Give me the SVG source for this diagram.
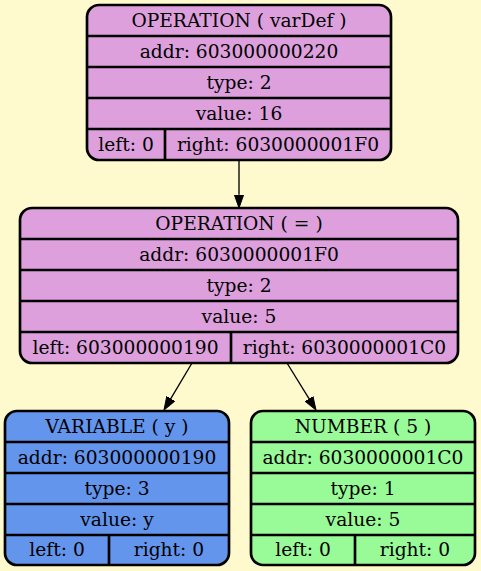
<svg xmlns="http://www.w3.org/2000/svg" width="481" height="571" viewBox="0 0 481 571">
<defs>
<style>
.bg{fill:#fffacd}
.box{stroke:#000;stroke-width:2.67}
.div{stroke:#000;stroke-width:2.67;fill:none}
.op{fill:#dda0dd}
.var{fill:#6495ed}
.num{fill:#98fb98}
text{font-family:"DejaVu Serif","Liberation Serif",serif;font-size:18.67px;fill:#000;text-anchor:middle}
.edge{stroke:#000;stroke-width:1.33;fill:none}
</style>
<marker id="arr" viewBox="0 0 14 10" refX="0" refY="5" markerWidth="14" markerHeight="10" markerUnits="userSpaceOnUse" orient="auto">
<path d="M0,0.33 L13.3,5 L0,9.67 z" fill="#000" stroke="#000" stroke-width="1"/>
</marker>
</defs>
<rect class="bg" x="0" y="0" width="481" height="571"/>
<g id="connectors">
<path class="edge" d="M239,160 L239,194.7" marker-end="url(#arr)"/>
<path class="edge" d="M192,363 L170.8,398.6" marker-end="url(#arr)"/>
<path class="edge" d="M287,363 L309,398.7" marker-end="url(#arr)"/>
</g>
<g id="node_varDef">
<rect class="box op" x="87" y="5" width="304" height="155" rx="12" ry="12"/>
<path class="div" d="M87,36 H391 M87,67 H391 M87,98 H391 M87,129 H391 M165,129 V160"/>
<text x="239" y="26.5">OPERATION ( varDef )</text>
<text x="239" y="57.5">addr: 603000000220</text>
<text x="239" y="88.5">type: 2</text>
<text x="239" y="119.5">value: 16</text>
<text x="126" y="150.5">left: 0</text>
<text x="278" y="150.5">right: 6030000001F0</text>
</g>
<g id="node_assign">
<rect class="box op" x="20" y="208" width="438" height="155" rx="12" ry="12"/>
<path class="div" d="M20,239 H458 M20,270 H458 M20,301 H458 M20,332 H458 M231,332 V363"/>
<text x="239" y="229.5">OPERATION ( = )</text>
<text x="239" y="260.5">addr: 6030000001F0</text>
<text x="239" y="291.5">type: 2</text>
<text x="239" y="322.5">value: 5</text>
<text x="125.5" y="353.5">left: 603000000190</text>
<text x="344.5" y="353.5">right: 6030000001C0</text>
</g>
<g id="node_var_y">
<rect class="box var" x="5" y="411" width="224" height="154" rx="12" ry="12"/>
<path class="div" d="M5,442 H229 M5,473 H229 M5,504 H229 M5,535 H229 M109,535 V565"/>
<text x="117" y="432.5">VARIABLE ( y )</text>
<text x="117" y="463.5">addr: 603000000190</text>
<text x="117" y="494.5">type: 3</text>
<text x="117" y="525.5">value: y</text>
<text x="57" y="556">left: 0</text>
<text x="169" y="556">right: 0</text>
</g>
<g id="node_num_5">
<rect class="box num" x="251" y="411" width="224" height="154" rx="12" ry="12"/>
<path class="div" d="M251,442 H475 M251,473 H475 M251,504 H475 M251,535 H475 M355,535 V565"/>
<text x="363" y="432.5">NUMBER ( 5 )</text>
<text x="363" y="463.5">addr: 6030000001C0</text>
<text x="363" y="494.5">type: 1</text>
<text x="363" y="525.5">value: 5</text>
<text x="303" y="556">left: 0</text>
<text x="415" y="556">right: 0</text>
</g>
</svg>
